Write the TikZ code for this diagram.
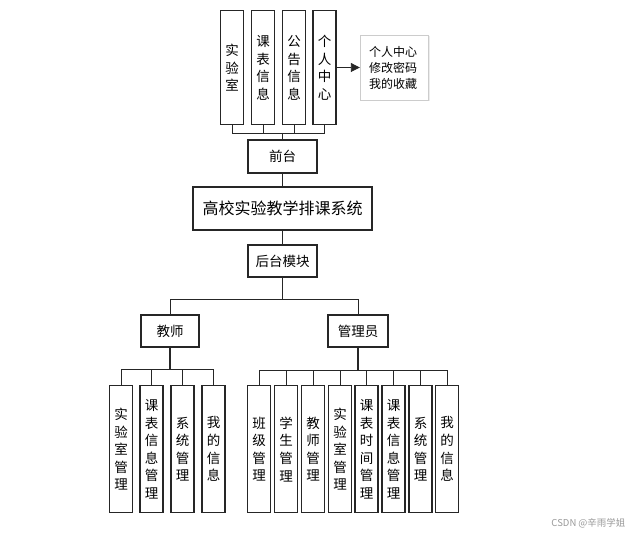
\documentclass[tikz,border=0pt]{standalone}
\usepackage{fontspec}
\setmainfont{Noto Sans CJK SC}
\usetikzlibrary{arrows.meta,positioning,shadows}

\begin{document}
\begin{tikzpicture}[x=1pt,y=-1pt,>=Triangle,font=\fontsize{13.5}{17.6}\selectfont,
  box/.style={draw=black!85,line width=1.4pt,inner sep=0pt,align=center},
  colbox/.style={box,anchor=north,minimum width=23,minimum height=114},
  leafbox/.style={box,anchor=north,minimum width=23,minimum height=127},
  link/.style={draw=black!85,line width=0.9pt}]
  \useasboundingbox (0,0) rectangle (634,534);
  % front end
  \foreach \i/\x/\txt in {1/232/{实\\验\\室}, 2/263/{课\\表\\信\\息},
                          3/294/{公\\告\\信\\息}, 4/324.5/{个\\人\\中\\心}}{
    \node[colbox] (top\i) at (\x,10) {\txt};
  }
  \node[draw=black!20,fill=white,drop shadow={opacity=0.15,shadow xshift=1.5pt,shadow yshift=-1.5pt},
        minimum width=68,minimum height=65,align=left,text width=50,inner sep=0pt,
        font=\fontsize{12}{16}\selectfont] (center) at (394,67.5) {个人中心\\修改密码\\我的收藏};
  \draw[link,-{Triangle[length=9pt,width=9pt]}] (top4.east |- center) -- (center);
  \coordinate (topbus) at (282.5,133);
  \foreach \i in {1,...,4}{
    \draw[link] (top\i.south) |- (topbus);
  }
  \node[box,minimum width=69,minimum height=33] (front) at (282.5,156.5) {前台};
  \node[box,minimum width=179,minimum height=43,font=\fontsize{16}{18}\selectfont] (sys) at (282.5,208.5) {高校实验教学排课系统};
  \node[box,minimum width=69,minimum height=32] (back) at (282.5,261) {后台模块};
  \draw[link] (topbus) -- (front);
  \draw[link] (front) -- (sys);
  \draw[link] (sys) -- (back);
  % back end roles
  \node[box,minimum width=58,minimum height=32] (teacher) at (170,331) {教师};
  \node[box,minimum width=60,minimum height=32] (admin) at (358,331) {管理员};
  \coordinate (rolebus) at (282.5,299);
  \draw[link] (back) -- (rolebus);
  \draw[link] (rolebus) -| (teacher);
  \draw[link] (rolebus) -| (admin);
  % teacher functions
  \coordinate (tbus) at (170,369);
  \draw[link,line width=1.6pt] (teacher) -- (tbus);
  \foreach \i/\x/\txt in {1/121/{实\\验\\室\\管\\理}, 2/151.5/{课\\表\\信\\息\\管\\理},
                          3/182.5/{系\\统\\管\\理}, 4/213.5/{我\\的\\信\\息}}{
    \node[leafbox] (tl\i) at (\x,385) {\txt};
    \draw[link] (tbus) -| (tl\i);
  }
  % admin functions
  \coordinate (abus) at (358,370);
  \draw[link,line width=2pt] (admin) -- (abus);
  \foreach \i/\x/\txt in {1/259/{班\\级\\管\\理}, 2/286/{学\\生\\管\\理},
                          3/313/{教\\师\\管\\理}, 4/340/{实\\验\\室\\管\\理},
                          5/366.5/{课\\表\\时\\间\\管\\理}, 6/393.5/{课\\表\\信\\息\\管\\理},
                          7/420.5/{系\\统\\管\\理}, 8/447/{我\\的\\信\\息}}{
    \node[leafbox] (al\i) at (\x,385) {\txt};
    \draw[link] (abus) -| (al\i);
  }
  \node[text=black!40,font=\fontsize{9.5}{10}\selectfont,anchor=east] (mark) at (629,523) {CSDN @辛雨学姐};
\end{tikzpicture}
\end{document}
